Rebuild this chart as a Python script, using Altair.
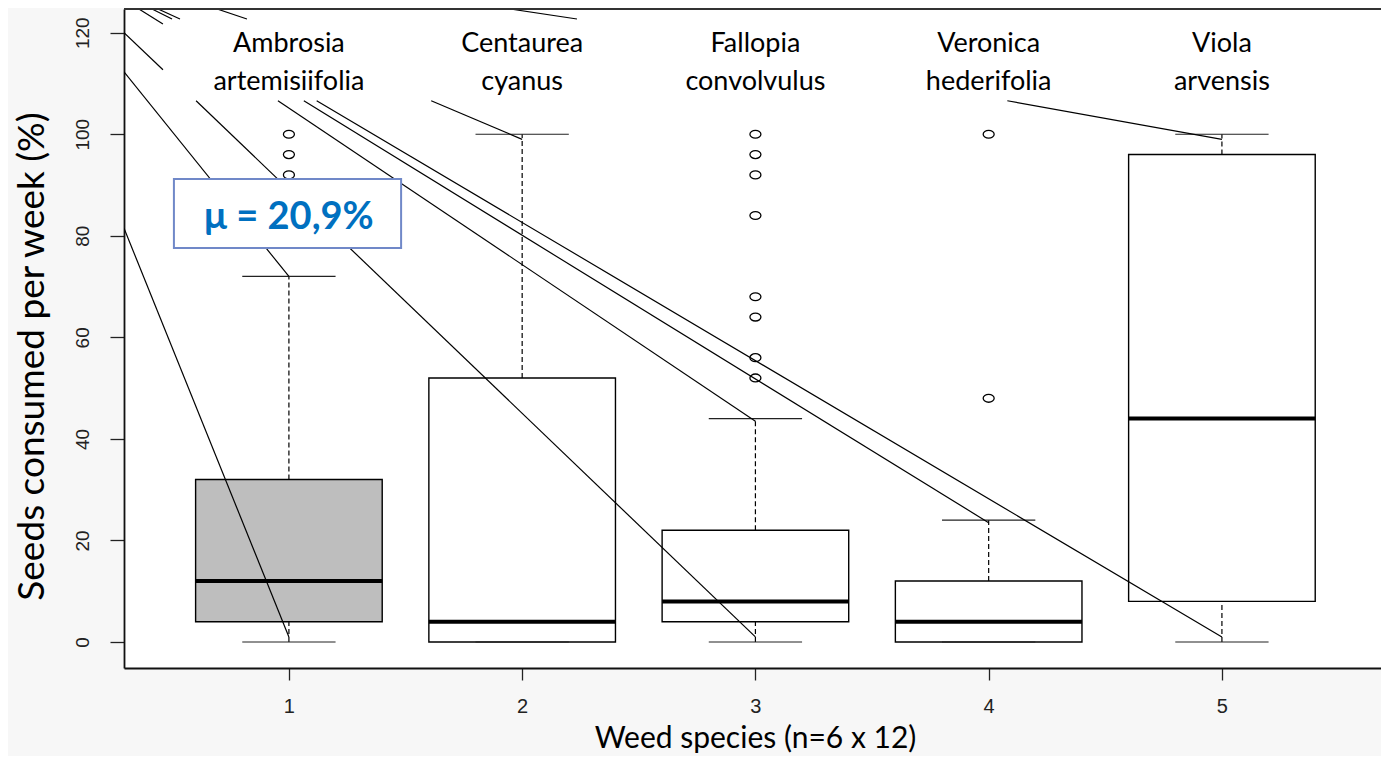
import altair as alt
import pandas as pd

# ---------------- data ----------------
positions = [1, 2, 3, 4, 5]
species = ["Ambrosia\nartemisiifolia", "Centaurea\ncyanus", "Fallopia\nconvolvulus",
           "Veronica\nhederifolia", "Viola\narvensis"]
q1 = [4, 0, 4, 0, 8]
median = [12, 4, 8, 4, 44]
q3 = [32, 52, 22, 12, 96]
whisker_low = [0, 0, 0, 0, 0]
whisker_high = [72, 100, 44, 24, 100]
box_fill = ["#bebebe", "#ffffff", "#ffffff", "#ffffff", "#ffffff"]

outlier_pos = [1, 1, 1, 3, 3, 3, 3, 3, 3, 3, 3, 4, 4]
outlier_val = [100, 96, 92, 100, 96, 92, 84, 68, 64, 56, 52, 100, 48]

x_ticks = [1, 2, 3, 4, 5]
y_ticks = [0, 20, 40, 60, 80, 100, 120]

# leader lines of the slide (data units)
line_x1 = [0.293, 0.293, 0.293, 0.602, 1.61, 0.953, 1.064, 1.119, 4.08,
           0.357, 0.413, 0.439, 0.692, 1.948]
line_y1 = [81.5, 112.3, 120.0, 106.6, 106.6, 106.6, 106.6, 106.6, 106.6,
           124.67, 124.67, 124.67, 124.67, 124.67]
line_x2 = [1, 1, 0.460, 3, 2, 3, 4, 5, 5,
           0.460, 0.499, 0.533, 0.820, 2.235]
line_y2 = [1, 72, 112.7, 1, 99, 43.5, 23.5, 1, 99,
           121.7, 122.7, 122.7, 122.7, 122.7]

# mean annotation
mean_text = ["\u03bc = 20,9%"]
mean_box_x = [0.507, 1.481]
mean_box_y = [77.6, 91.2]
mean_text_pos = [1.0, 81.3]

label_y = 116.2
frame_top = 124.67

# ---------------- tables ----------------
box_half, cap_half = 0.4, 0.2
boxes = pd.DataFrame({
    "pos": positions, "q1": q1, "med": median, "q3": q3,
    "lo": whisker_low, "hi": whisker_high, "fill": box_fill,
})
boxes["left"] = boxes["pos"] - box_half
boxes["right"] = boxes["pos"] + box_half
boxes["capl"] = boxes["pos"] - cap_half
boxes["capr"] = boxes["pos"] + cap_half

outliers = pd.DataFrame({"pos": outlier_pos, "val": outlier_val})
lines = pd.DataFrame({"x1": line_x1, "y1": line_y1, "x2": line_x2, "y2": line_y2})
labels = pd.DataFrame({"pos": positions, "label": species, "y": [label_y] * 5})
mbox = pd.DataFrame({"x1": [mean_box_x[0]], "x2": [mean_box_x[1]],
                     "y1": [mean_box_y[0]], "y2": [mean_box_y[1]]})
mtext = pd.DataFrame({"x": [mean_text_pos[0]], "y": [mean_text_pos[1]], "t": mean_text})
frame = pd.DataFrame({"y": [frame_top]})

# ---------------- scales / axes ----------------
xscale = alt.Scale(domain=[0.293, 5.682], nice=False, zero=False)
yscale = alt.Scale(domain=[-5.12, 124.67], nice=False, zero=False)

x_axis = alt.Axis(values=x_ticks, format="d", grid=False, tickSize=12, tickColor="#222222",
                  tickWidth=1.3, domainColor="#111111", domainWidth=1.8,
                  labelFont="Liberation Sans", labelFontSize=20, labelColor="#222222",
                  labelPadding=16, labelBaseline="top",
                  title="Weed species (n=6 x 12)", titleFont="Lato", titleFontSize=30,
                  titleFontWeight="normal", titleColor="#000000",
                  titleX=631, titleY=79, titleBaseline="alphabetic", titleAlign="center")
y_axis = alt.Axis(values=y_ticks, format="d", grid=False, tickSize=14, tickColor="#222222",
                  tickWidth=1.3, domainColor="#111111", domainWidth=1.8,
                  labelFont="Liberation Sans", labelFontSize=19, labelColor="#222222",
                  labelAngle=270, labelAlign="center", labelBaseline="bottom",
                  labelPadding=18,
                  title="Seeds consumed per week (%)", titleFont="Lato", titleFontSize=37,
                  titleFontWeight="normal", titleColor="#000000",
                  titleAngle=270, titleX=-81, titleY=347,
                  titleBaseline="alphabetic", titleAlign="center")


def X(f):
    return alt.X(f, type="quantitative", scale=xscale, axis=x_axis)


def Y(f):
    return alt.Y(f, type="quantitative", scale=yscale, axis=y_axis)


base_box = alt.Chart(boxes)

rects = base_box.mark_rect(stroke="#000000", strokeWidth=1.4).encode(
    x=X("left"), x2="right", y=Y("q1"), y2="q3",
    fill=alt.Fill("fill:N", scale=None))

medians = base_box.mark_rule(color="#000000", strokeWidth=4).encode(
    x=X("left"), x2="right", y=Y("med"))

upper_wh = base_box.mark_rule(color="#000000", strokeWidth=1.2, strokeDash=[5, 3]).encode(
    x=X("pos"), y=Y("q3"), y2="hi")
lower_wh = base_box.mark_rule(color="#000000", strokeWidth=1.2, strokeDash=[5, 3]).encode(
    x=X("pos"), y=Y("lo"), y2="q1")

cap_hi = base_box.mark_rule(color="#222222", strokeWidth=1.2).encode(
    x=X("capl"), x2="capr", y=Y("hi"))
cap_lo = base_box.mark_rule(color="#222222", strokeWidth=1.2).encode(
    x=X("capl"), x2="capr", y=Y("lo"))

ellipse = "M-1,0A1,0.72,0,1,1,1,0A1,0.72,0,1,1,-1,0Z"
points = alt.Chart(outliers).mark_point(
    shape=ellipse, size=121, filled=False, color="#000000", strokeWidth=1.3, opacity=1
).encode(x=X("pos"), y=Y("val"))

leaders = alt.Chart(lines).mark_rule(color="#000000", strokeWidth=1.2, clip=True).encode(
    x=X("x1"), y=Y("y1"), x2="x2", y2="y2")

mean_rect = alt.Chart(mbox).mark_rect(fill="#ffffff", stroke="#7088c8", strokeWidth=2).encode(
    x=X("x1"), x2="x2", y=Y("y1"), y2="y2")

mean_lbl = alt.Chart(mtext).mark_text(
    font="Lato", fontSize=38, fontWeight="bold", color="#0070c0",
    align="center", baseline="alphabetic"
).encode(x=X("x"), y=Y("y"), text="t:N")

species_lbl = alt.Chart(labels).mark_text(
    font="Lato", fontSize=27, color="#000000", align="center", baseline="alphabetic",
    lineBreak="\n", lineHeight=38
).encode(x=X("pos"), y=Y("y"), text="label:N")

top_line = alt.Chart(frame).mark_rule(color="#333333", strokeWidth=1.8).encode(y=Y("y"))

chart = alt.layer(
    rects, lower_wh, upper_wh, cap_lo, cap_hi, medians, points,
    leaders, mean_rect, mean_lbl, species_lbl, top_line
).properties(
    width=1257, height=659,
    autosize=alt.AutoSizeParams(type="none"),
    padding={"left": 116, "top": 1, "right": 0, "bottom": 88},
    background="#f7f7f7",
).configure_view(fill="#ffffff", stroke=None)

chart.save("out.html", embed_options={"renderer": "svg", "actions": False})
